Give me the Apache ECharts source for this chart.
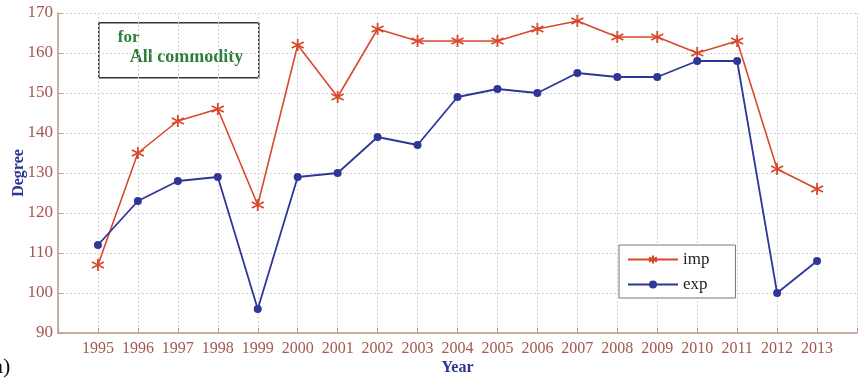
<!DOCTYPE html>
<html>
<head>
<meta charset="utf-8">
<script src="https://cdn.jsdelivr.net/npm/echarts@6/dist/echarts.min.js"></script>
<style>
  html, body { margin: 0; padding: 0; background: #fff; }
  #chart { width: 859px; height: 379px; }
</style>
</head>
<body>
<div id="chart"></div>
<script>
// Degree by year, imports vs exports, all commodities
const years = [1995, 1996, 1997, 1998, 1999, 2000, 2001, 2002, 2003, 2004,
               2005, 2006, 2007, 2008, 2009, 2010, 2011, 2012, 2013];
const impDegree = [107, 135, 143, 146, 122, 162, 149, 166, 163, 163,
                   163, 166, 168, 164, 164, 160, 163, 131, 126];
const expDegree = [112, 123, 128, 129, 96, 129, 130, 139, 137, 149,
                   151, 150, 155, 154, 154, 158, 158, 100, 108];
const yTicks = [90, 100, 110, 120, 130, 140, 150, 160, 170];

const serif = '"Liberation Serif", "DejaVu Serif", serif';
const impColor = '#d8482c';
const expColor = '#2f3796';
const axisColor = '#b89a8a';
const tickLabelColor = '#a3584e';
const gridLine = { show: true, lineStyle: { color: '#d2d2d2', type: [2, 2], width: 1 } };

const asterisk = 'path://M0,-5L0,5M-4.33,-2.5L4.33,2.5M-4.33,2.5L4.33,-2.5';

const chart = echarts.init(document.getElementById('chart'));
chart.setOption({
  animation: false,
  backgroundColor: '#fff',
  grid: { left: 58, right: 2, top: 13, bottom: 46, containLabel: false, outerBoundsMode: 'none' },
  xAxis: {
    type: 'value',
    min: 1994, max: 2014, interval: 1,
    name: 'Year',
    nameLocation: 'middle',
    nameGap: 27,
    nameMoveOverlap: false,
    nameTextStyle: { fontFamily: serif, fontWeight: 'bold', fontSize: 16, color: '#2a3590' },
    axisLine: { show: true, lineStyle: { color: axisColor, width: 1.5 } },
    axisTick: { show: true, inside: true, length: 5, lineStyle: { color: axisColor } },
    axisLabel: {
      fontFamily: serif, fontSize: 16, color: tickLabelColor, margin: 8,
      formatter: v => (v >= years[0] && v <= years[years.length - 1]) ? String(v) : ''
    },
    splitLine: gridLine
  },
  yAxis: {
    type: 'value',
    min: yTicks[0], max: yTicks[yTicks.length - 1], interval: 10,
    name: 'Degree',
    nameLocation: 'middle',
    nameGap: 31,
    nameMoveOverlap: false,
    nameRotate: 90,
    nameTextStyle: { fontFamily: serif, fontWeight: 'bold', fontSize: 16, color: '#2a3590' },
    axisLine: { show: true, lineStyle: { color: axisColor, width: 1.5 } },
    axisTick: { show: true, inside: true, length: 5, lineStyle: { color: axisColor } },
    axisLabel: { fontFamily: serif, fontSize: 17, color: tickLabelColor, margin: 5 },
    splitLine: gridLine
  },
  legend: {
    left: 619, top: 245,
    orient: 'vertical',
    backgroundColor: '#fff',
    borderColor: '#777',
    borderWidth: 1,
    borderRadius: 0,
    padding: [6, 26, 5, 8],
    itemGap: 8,
    itemWidth: 50,
    itemHeight: 10,
    textStyle: { fontFamily: serif, fontSize: 17, color: '#222' },
    data: ['imp', 'exp']
  },
  series: [
    {
      name: 'imp',
      type: 'line',
      data: years.map((y, i) => [y, impDegree[i]]),
      symbol: asterisk,
      symbolSize: 12,
      lineStyle: { color: impColor, width: 1.6 },
      itemStyle: { color: impColor, borderColor: impColor, borderWidth: 1.8 }
    },
    {
      name: 'exp',
      type: 'line',
      data: years.map((y, i) => [y, expDegree[i]]),
      symbol: 'circle',
      symbolSize: 8,
      lineStyle: { color: expColor, width: 1.8 },
      itemStyle: { color: expColor }
    }
  ],
  graphic: [
    {
      type: 'group',
      left: 98, top: 22,
      children: [
        { type: 'rect', shape: { x: 0, y: 0, width: 160, height: 55 },
          style: { fill: '#fff', stroke: '#333', lineWidth: 1.5 } },
        { type: 'text', x: 19, y: 6,
          style: { text: 'for', fontFamily: serif, fontWeight: 'bold', fontSize: 17, fill: '#2e7d3a' } },
        { type: 'text', x: 31, y: 26,
          style: { text: 'All commodity', fontFamily: serif, fontWeight: 'bold', fontSize: 18, fill: '#2e7d3a' } }
      ]
    },
    {
      type: 'text', left: -14, top: 356,
      style: { text: '(a)', fontFamily: serif, fontSize: 22, fill: '#111' }
    }
  ]
});
</script>
</body>
</html>
